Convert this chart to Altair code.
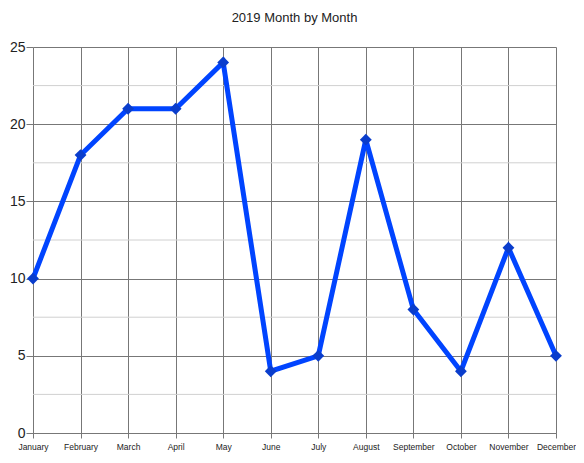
import altair as alt
import pandas as pd

months = ["January", "February", "March", "April", "May", "June", "July",
          "August", "September", "October", "November", "December"]
values = [10, 18, 21, 21, 24, 4, 5, 19, 8, 4, 12, 5]
minor_grid = [2.5, 7.5, 12.5, 17.5, 22.5]
major_ticks = [0, 5, 10, 15, 20, 25]

df = pd.DataFrame({"month": months, "value": values})
minor_df = pd.DataFrame({"v": minor_grid})

FONT = "Liberation Sans"

x_enc = alt.X("month:N", sort=months, title=None,
              scale=alt.Scale(type="point", padding=0),
              axis=alt.Axis(labelAngle=0, labelFontSize=8.5, labelColor="#222",
                            labelFont=FONT, grid=True, gridColor="#777",
                            gridWidth=1, tickColor="#777", tickSize=5,
                            domainColor="#777", labelPadding=4))
y_scale = alt.Scale(domain=[0, 25], nice=False)

minor = alt.Chart(minor_df).mark_rule(color="#d0d0d0", strokeWidth=1).encode(
    y=alt.Y("v:Q", scale=y_scale)
)

line = alt.Chart(df).mark_line(color="#0044ff", strokeWidth=5).encode(
    x=x_enc,
    y=alt.Y("value:Q", scale=y_scale, title=None,
            axis=alt.Axis(values=major_ticks, labelFontSize=14, labelColor="#222",
                          labelFont=FONT, grid=True, gridColor="#777",
                          gridWidth=1, tickColor="#777", tickSize=7,
                          domain=False, labelPadding=1)),
)

points = alt.Chart(df).mark_point(shape="diamond", filled=True, size=140,
                                   color="#0a3dcc", opacity=1).encode(
    x=alt.X("month:N", sort=months),
    y=alt.Y("value:Q"),
)

chart = alt.layer(minor, line, points).properties(
    width=523, height=386,
    autosize=alt.AutoSizeParams(type="none"),
    padding={"left": 25, "top": 39, "right": 20, "bottom": 25},
    title=alt.TitleParams("2019 Month by Month", font=FONT, fontSize=13,
                          fontWeight="normal", color="#222", offset=15,
                          anchor="middle"),
).configure_view(stroke=None)

chart.save("out.html", embed_options={"renderer": "svg", "actions": False})
